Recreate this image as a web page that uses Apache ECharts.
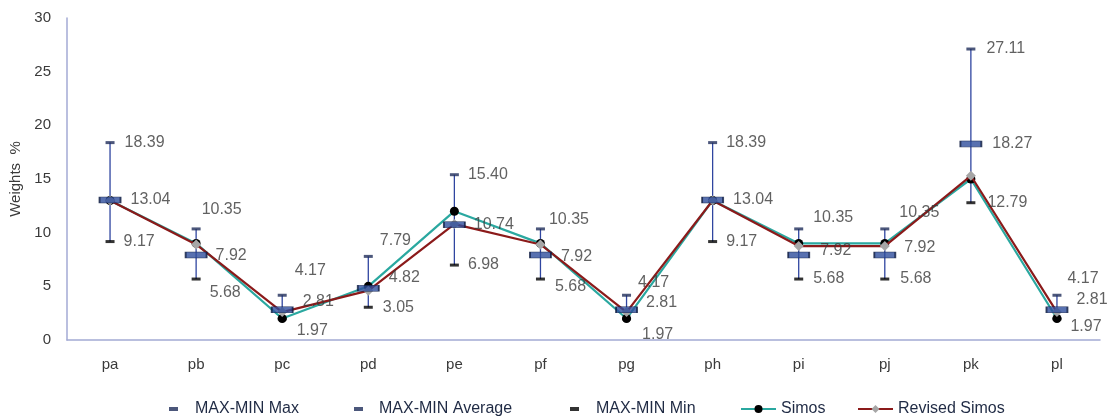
<!DOCTYPE html>
<html>
<head>
<meta charset="utf-8">
<script src="https://cdn.jsdelivr.net/npm/echarts@6/dist/echarts.min.js"></script>
<style>
html,body{margin:0;padding:0;background:#fff;}
#chart{width:1109px;height:416px;}
</style>
</head>
<body>
<div id="chart"></div>
<script>
// ---- data ----
var categories = ['pa','pb','pc','pd','pe','pf','pg','ph','pi','pj','pk','pl'];
var maxValues  = [18.39,10.35,4.17,7.79,15.40,10.35,4.17,18.39,10.35,10.35,27.11,4.17];
var avgValues  = [13.04,7.92,2.81,4.82,10.74,7.92,2.81,13.04,7.92,7.92,18.27,2.81];
var minValues  = [9.17,5.68,1.97,3.05,6.98,5.68,1.97,9.17,5.68,5.68,12.79,1.97];
var simosValues   = [13.0,9.0,2.0,5.0,12.0,9.0,2.0,13.0,9.0,9.0,15.0,2.0];
var revisedValues = [13.0,8.9,2.6,4.6,10.8,8.9,2.6,13.0,8.75,8.75,15.3,2.6];
var yTicks = [0,5,10,15,20,25,30];

// ---- label placement (style, kept apart from data) ----
var maxOffsets = [[2,0],[-7,-19],[0,-25],[-1,-16],[1,0],[-4,-9],[-1,-13],[1,0],[2,-11],[2,-16],[3,0],[-2,-17]];
var avgOffsets = [[1,0],[0,1],[1,-8],[1,-11],[0,0],[1,2],[0,-7],[1,0],[2,-4],[0,-7],[2,0],[0,-10]];
var minOffsets = [[1,0],[1,14],[2,12],[2,0],[1,0],[2,8],[3,16],[1,0],[2,0],[3,0],[4,0],[1,8]];

var FONT = 'Liberation Sans';
var TXT = '#3a3a3a';

function pts(vals, offs){
  return vals.map(function(v,i){
    return {value:[i,v], label:{offset:offs[i]}};
  });
}
var barData = categories.map(function(c,i){ return [i, minValues[i], maxValues[i]]; });

var labelBase = {
  show:true, position:'right', distance:8,
  color:TXT, fontFamily:FONT, fontSize:16,
  formatter:function(p){ return p.value[1].toFixed(2); }
};

var chart = echarts.init(document.getElementById('chart'), null, {renderer:'canvas'});
var legendText = {color:'#1f2a44', fontFamily:FONT, fontSize:16};
chart.setOption({
  animation:false,
  backgroundColor:'#ffffff',
  grid:{left:67, right:9, top:18, bottom:76, containLabel:false, outerBoundsMode:'none'},
  xAxis:{
    type:'category', data:categories, boundaryGap:true,
    axisLine:{show:true, lineStyle:{color:'#a3aad4', width:1.5}},
    axisTick:{show:false},
    axisLabel:{color:TXT, fontFamily:FONT, fontSize:15, margin:17},
    splitLine:{show:false}
  },
  yAxis:{
    type:'value', min:yTicks[0], max:yTicks[yTicks.length-1], interval:5,
    name:'Weights  %', nameLocation:'middle', nameGap:42, nameRotate:90,
    nameTextStyle:{color:TXT, fontFamily:FONT, fontSize:15},
    axisLine:{show:true, lineStyle:{color:'#a3aad4', width:1.5}},
    axisTick:{show:false},
    axisLabel:{color:TXT, fontFamily:FONT, fontSize:15, margin:16},
    splitLine:{show:false}
  },
  legend:[
    {left:164, top:396, icon:'rect', itemWidth:9, itemHeight:4,
     data:[{name:'MAX-MIN Max'}], textStyle:Object.assign({padding:[0,0,0,12]},legendText)},
    {left:349, top:396, icon:'rect', itemWidth:9, itemHeight:4,
     data:[{name:'MAX-MIN Average', itemStyle:{color:'#1f2d5a', borderWidth:0}}], textStyle:Object.assign({padding:[0,0,0,11]},legendText)},
    {left:565, top:396, icon:'rect', itemWidth:9, itemHeight:4,
     data:[{name:'MAX-MIN Min'}], textStyle:Object.assign({padding:[0,0,0,12]},legendText)},
    {left:735, top:396, itemWidth:35, itemHeight:10,
     data:[{name:'Simos'}], textStyle:legendText},
    {left:852, top:396, itemWidth:35, itemHeight:10,
     data:[{name:'Revised Simos'}], textStyle:legendText}
  ],
  series:[
    {
      type:'custom', name:'range', z:2, silent:true,
      data:barData,
      renderItem:function(params, api){
        var x = api.value(0);
        var p1 = api.coord([x, api.value(1)]);
        var p2 = api.coord([x, api.value(2)]);
        return {type:'line', shape:{x1:p1[0], y1:p1[1], x2:p2[0], y2:p2[1]},
                style:{stroke:'#2f45a0', lineWidth:1.3}};
      }
    },
    {
      type:'line', name:'Simos', z:3, data:simosValues,
      symbol:'circle', symbolSize:9,
      lineStyle:{color:'#2aa8a0', width:2.2},
      itemStyle:{color:'#000000'}
    },
    {
      type:'line', name:'Revised Simos', z:4, data:revisedValues,
      symbol:'diamond', symbolSize:10,
      lineStyle:{color:'#8b1a1a', width:2.2},
      itemStyle:{color:'#a6a6a6'}
    },
    {
      type:'scatter', name:'MAX-MIN Max', z:6, data:pts(maxValues, maxOffsets),
      symbol:'rect', symbolSize:[9,3],
      itemStyle:{color:'#1f2d5a'}, label:labelBase
    },
    {
      type:'scatter', name:'MAX-MIN Average', z:6, data:pts(avgValues, avgOffsets),
      symbol:'rect', symbolSize:[21,6],
      itemStyle:{color:'#2e4d9c', borderColor:'#0d1a3e', borderWidth:1},
      label:Object.assign({}, labelBase, {distance:8})
    },
    {
      type:'scatter', name:'MAX-MIN Min', z:6, data:pts(minValues, minOffsets),
      symbol:'rect', symbolSize:[9,3],
      itemStyle:{color:'#000000'}, label:labelBase
    }
  ]
});
</script>
</body>
</html>
